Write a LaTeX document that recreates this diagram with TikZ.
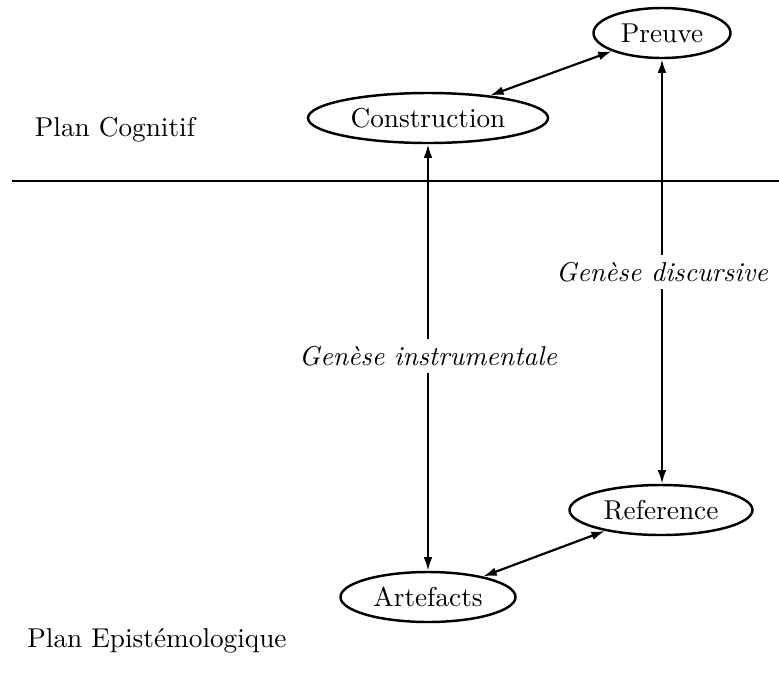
\documentclass[tikz,border=0pt]{standalone}
\usetikzlibrary{shapes.geometric,arrows.meta}
\begin{document}
\begin{tikzpicture}[x=0.0129cm,y=-0.0129cm,
  plan/.style={ellipse,draw,line width=0.9pt,inner sep=0pt,minimum height=50*0.0129cm},
  link/.style={line width=0.8pt,{Latex[length=5pt,width=3.2pt]}-{Latex[length=5pt,width=3.2pt]}},
  half/.style={line width=0.8pt,-{Latex[length=5pt,width=3.2pt]}},
  genese/.style={inner sep=0pt,minimum height=32*0.0129cm,font=\itshape}]
  \useasboundingbox (0,0) rectangle (779,693);
  % the two planes and their labels
  \coordinate (sepL) at (12,181);
  \coordinate (sepR) at (779,181);
  \draw[line width=0.7pt] (sepL) -- (sepR);
  \node (cog) at (115,130) {Plan Cognitif};
  \node (epi) at (157,641) {Plan Epist\'emologique};
  % ellipses
  \node[plan,minimum width=137*0.0129cm] (preuve) at (662,33) {Preuve};
  \node[plan,minimum width=240*0.0129cm] (constr) at (428,118) {Construction};
  \node[plan,minimum width=183*0.0129cm] (ref) at (661,510) {Reference};
  \node[plan,minimum width=175*0.0129cm] (art) at (428,597) {Artefacts};
  % labels of the two geneses
  \node[genese] (gi) at (428,356) {Gen\`ese instrumentale};
  \node[genese] (gd) at (662,272) {Gen\`ese discursive};
  % connectors
  \draw[link] (constr) -- (preuve);
  \draw[link] (art) -- (ref);
  \draw[half] (gi.north) -- (constr.south);
  \draw[half] (gi.south) -- (art.north);
  \draw[half] (gd.north) -- (preuve.south);
  \draw[half] (gd.south) -- (gd.south |- ref.north);
\end{tikzpicture}
\end{document}
